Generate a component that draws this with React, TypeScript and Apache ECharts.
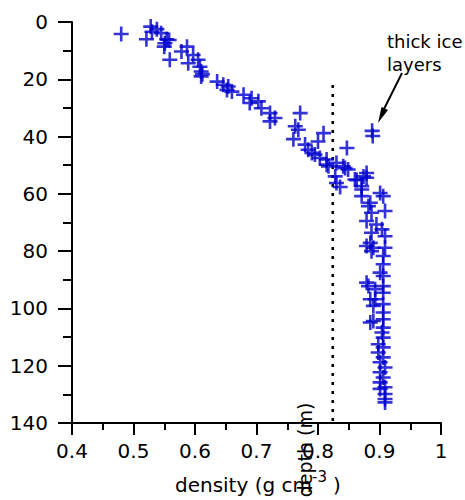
import React, { useEffect, useRef } from "react";
import * as echarts from "echarts";

// density (g cm^-3), depth (m)
const densities: number[] = [
  0.480, 0.521, 0.528, 0.538, 0.530, 0.545, 0.554, 0.551, 0.550, 0.558,
  0.559, 0.578, 0.587, 0.589, 0.597, 0.605, 0.608, 0.610, 0.610, 0.612,
  0.636, 0.646, 0.652, 0.654, 0.660, 0.679, 0.692, 0.689, 0.703, 0.708,
  0.722, 0.730, 0.722, 0.771, 0.763, 0.768, 0.760, 0.809, 0.800, 0.779,
  0.784, 0.790, 0.795, 0.803, 0.814, 0.817, 0.814, 0.828, 0.830, 0.830,
  0.841, 0.849, 0.844, 0.847, 0.888, 0.889, 0.836, 0.860, 0.863, 0.874,
  0.879, 0.879, 0.871, 0.871, 0.901, 0.906, 0.871, 0.885, 0.882, 0.909,
  0.887, 0.879, 0.895, 0.904, 0.887, 0.909, 0.885, 0.909, 0.890, 0.879,
  0.887, 0.906, 0.906, 0.901, 0.906, 0.879, 0.882, 0.893, 0.906, 0.906,
  0.893, 0.885, 0.890, 0.906, 0.906, 0.890, 0.885, 0.906, 0.906, 0.904,
  0.906, 0.898, 0.906, 0.898, 0.906, 0.901, 0.909, 0.901, 0.906, 0.901,
  0.909, 0.901, 0.909, 0.909, 0.909,
];
const depths: number[] = [
  4.2, 6.0, 1.6, 2.5, 3.4, 3.9, 6.0, 7.4, 8.6, 6.3,
  13.2, 10.3, 8.6, 14.4, 11.5, 13.2, 15.6, 17.3, 19.0, 18.2,
  20.8, 21.9, 23.7, 22.5, 24.3, 25.4, 26.6, 28.3, 27.7, 30.1,
  31.8, 33.5, 34.7, 31.8, 36.4, 37.6, 40.9, 38.8, 41.7, 42.8,
  44.6, 45.7, 46.3, 47.5, 48.0, 50.4, 49.8, 53.9, 56.2, 49.2,
  50.4, 51.5, 51.0, 44.0, 38.0, 39.8, 57.6, 55.0, 55.2, 53.9,
  52.7, 54.4, 57.3, 58.5, 59.7, 60.8, 60.8, 63.1, 64.3, 66.0,
  66.6, 69.5, 70.7, 72.4, 73.6, 74.8, 77.1, 78.8, 78.8, 78.2,
  80.0, 81.7, 84.6, 87.5, 88.7, 91.0, 92.2, 93.3, 92.2, 94.5,
  96.8, 96.8, 99.1, 98.5, 101.4, 104.4, 104.9, 103.8, 106.7, 108.4,
  110.2, 112.5, 113.6, 115.4, 117.1, 118.8, 120.6, 122.3, 124.1, 125.8,
  127.5, 128.1, 129.9, 131.6, 132.8,
];
const thresholdDensity = 0.824;
const thresholdDepthRange: number[] = [22, 140];
const annotationText = "thick ice\nlayers";

const FONT = "DejaVu Sans";
const PLUS =
  "path://M6.2,0h2.6v6.2h6.2v2.6h-6.2v6.2h-2.6v-6.2h-6.2v-2.6h6.2z";

export default function App() {
  const ref = useRef<HTMLDivElement>(null);
  useEffect(() => {
    if (!ref.current) return;
    const chart = echarts.init(ref.current, null, { renderer: "svg" });
    const points = densities.map((d, i) => [d, depths[i]]);
    const axisLine = { show: true, onZero: false, lineStyle: { color: "#000", width: 2 } };
    chart.setOption({
      animation: false,
      grid: { left: 72, right: 24, top: 22, bottom: 77, containLabel: false },
      xAxis: {
        type: "value",
        min: 0.4,
        max: 1,
        interval: 0.1,
        axisLine,
        axisTick: { show: true, length: 12, lineStyle: { color: "#000", width: 2 } },
        minorTick: { show: true, splitNumber: 2, length: 7, lineStyle: { color: "#000", width: 2 } },
        splitLine: { show: false },
        axisLabel: { margin: 18, color: "#000", fontSize: 20, fontFamily: FONT },
      },
      yAxis: {
        type: "value",
        inverse: true,
        min: 0,
        max: 140,
        interval: 20,
        axisLine,
        axisTick: { show: true, length: 14, lineStyle: { color: "#000", width: 2 } },
        minorTick: { show: true, splitNumber: 2, length: 9, lineStyle: { color: "#000", width: 2 } },
        splitLine: { show: false },
        axisLabel: { margin: 24, color: "#000", fontSize: 20, fontFamily: FONT },
      },
      series: [
        {
          type: "line",
          data: thresholdDepthRange.map((y) => [thresholdDensity, y]),
          symbol: "none",
          lineStyle: { color: "#000", width: 2.6, type: [3, 6] },
          silent: true,
          z: 1,
        },
        {
          type: "scatter",
          data: points,
          symbol: PLUS,
          symbolSize: 15,
          itemStyle: { color: "#0000cc" },
          z: 2,
        },
      ],
      graphic: [
        {
          type: "text",
          left: 387,
          top: 30,
          style: {
            text: annotationText,
            fontSize: 18,
            lineHeight: 23,
            fontFamily: FONT,
            fill: "#000",
          },
        },
        {
          type: "line",
          shape: { x1: 402, y1: 73, x2: 382, y2: 113 },
          style: { stroke: "#000", lineWidth: 2 },
        },
        {
          type: "polygon",
          shape: { points: [[378, 123], [388, 110], [381.5, 107]] },
          style: { fill: "#000" },
        },
        {
          type: "text",
          x: 312,
          y: 485,
          style: {
            text: "density (g cm",
            fontSize: 20,
            fontFamily: FONT,
            fill: "#000",
            align: "right",
            verticalAlign: "middle",
          },
        },
        {
          type: "text",
          x: 312,
          y: 477,
          style: {
            text: "-3",
            fontSize: 15,
            fontFamily: FONT,
            fill: "#000",
            align: "left",
            verticalAlign: "middle",
          },
        },
        {
          type: "text",
          x: 333,
          y: 485,
          style: {
            text: ")",
            fontSize: 20,
            fontFamily: FONT,
            fill: "#000",
            align: "left",
            verticalAlign: "middle",
          },
        },
        {
          type: "text",
          x: 305,
          y: 450,
          rotation: Math.PI / 2,
          style: {
            text: "depth (m)",
            fontSize: 19,
            fontFamily: FONT,
            fill: "#000",
            align: "center",
            verticalAlign: "middle",
          },
        },
      ],
    });
    return () => chart.dispose();
  }, []);
  return <div ref={ref} style={{ width: 465, height: 500, position: "absolute", left: 0, top: 0 }} />;
}
